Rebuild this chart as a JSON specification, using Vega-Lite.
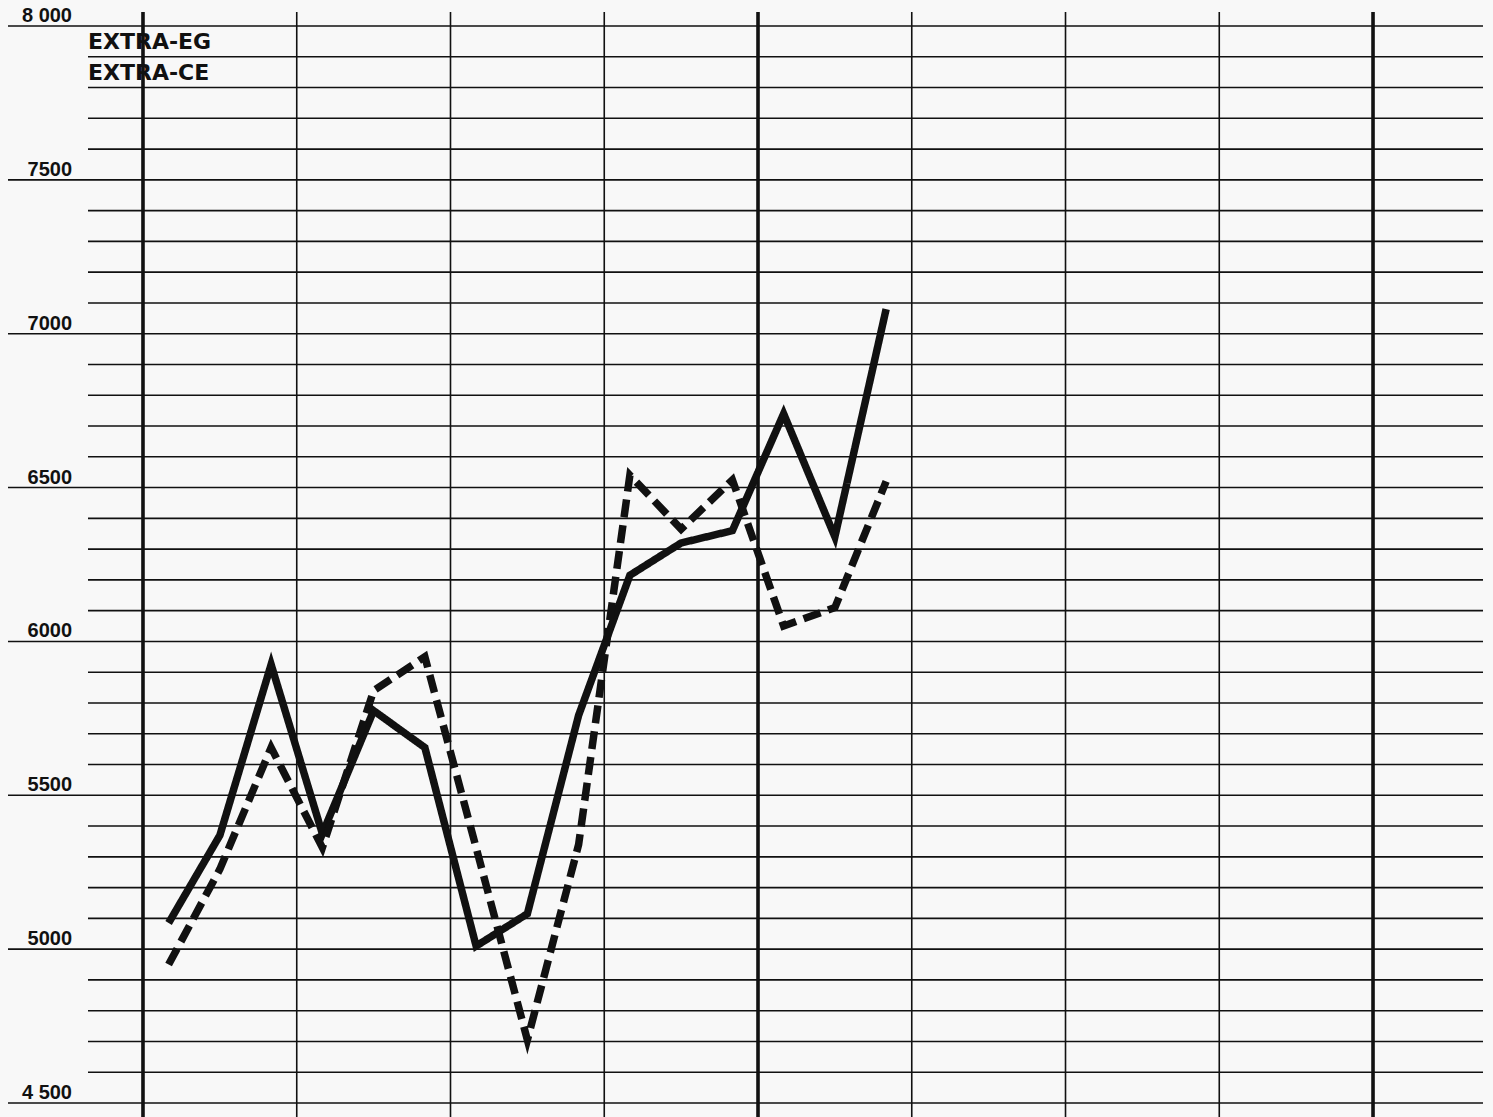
{
  "$schema": "https://vega.github.io/schema/vega-lite/v6.json",
  "width": 1493,
  "height": 1117,
  "padding": 0,
  "autosize": {"type": "none"},
  "background": "#f8f8f8",
  "config": {"view": {"stroke": null}},
  "datasets": {
    "series": [
      {"t": 0.5, "series": "EXTRA-EG", "value": 5085},
      {"t": 1.5, "series": "EXTRA-EG", "value": 5370},
      {"t": 2.5, "series": "EXTRA-EG", "value": 5925},
      {"t": 3.5, "series": "EXTRA-EG", "value": 5375},
      {"t": 4.5, "series": "EXTRA-EG", "value": 5775},
      {"t": 5.5, "series": "EXTRA-EG", "value": 5655},
      {"t": 6.5, "series": "EXTRA-EG", "value": 5010},
      {"t": 7.5, "series": "EXTRA-EG", "value": 5115},
      {"t": 8.5, "series": "EXTRA-EG", "value": 5760},
      {"t": 9.5, "series": "EXTRA-EG", "value": 6215},
      {"t": 10.5, "series": "EXTRA-EG", "value": 6320},
      {"t": 11.5, "series": "EXTRA-EG", "value": 6360},
      {"t": 12.5, "series": "EXTRA-EG", "value": 6740},
      {"t": 13.5, "series": "EXTRA-EG", "value": 6340},
      {"t": 14.5, "series": "EXTRA-EG", "value": 7080},
      {"t": 0.5, "series": "EXTRA-CE", "value": 4950},
      {"t": 1.5, "series": "EXTRA-CE", "value": 5260},
      {"t": 2.5, "series": "EXTRA-CE", "value": 5655},
      {"t": 3.5, "series": "EXTRA-CE", "value": 5330},
      {"t": 4.5, "series": "EXTRA-CE", "value": 5840},
      {"t": 5.5, "series": "EXTRA-CE", "value": 5950},
      {"t": 6.5, "series": "EXTRA-CE", "value": 5330},
      {"t": 7.5, "series": "EXTRA-CE", "value": 4705},
      {"t": 8.5, "series": "EXTRA-CE", "value": 5340},
      {"t": 9.5, "series": "EXTRA-CE", "value": 6540},
      {"t": 10.5, "series": "EXTRA-CE", "value": 6365},
      {"t": 11.5, "series": "EXTRA-CE", "value": 6525},
      {"t": 12.5, "series": "EXTRA-CE", "value": 6050},
      {"t": 13.5, "series": "EXTRA-CE", "value": 6110},
      {"t": 14.5, "series": "EXTRA-CE", "value": 6520}
    ],
    "hgrid": [
      {"v": 4500}, {"v": 4600}, {"v": 4700}, {"v": 4800}, {"v": 4900},
      {"v": 5000}, {"v": 5100}, {"v": 5200}, {"v": 5300}, {"v": 5400},
      {"v": 5500}, {"v": 5600}, {"v": 5700}, {"v": 5800}, {"v": 5900},
      {"v": 6000}, {"v": 6100}, {"v": 6200}, {"v": 6300}, {"v": 6400},
      {"v": 6500}, {"v": 6600}, {"v": 6700}, {"v": 6800}, {"v": 6900},
      {"v": 7000}, {"v": 7100}, {"v": 7200}, {"v": 7300}, {"v": 7400},
      {"v": 7500}, {"v": 7600}, {"v": 7700}, {"v": 7800}, {"v": 7900},
      {"v": 8000}
    ],
    "vgrid": [
      {"t": 0}, {"t": 3}, {"t": 6}, {"t": 9}, {"t": 12},
      {"t": 15}, {"t": 18}, {"t": 21}, {"t": 24}
    ],
    "ylabels": [
      {"v": 8000, "label": "8 000"},
      {"v": 7500, "label": "7500"},
      {"v": 7000, "label": "7000"},
      {"v": 6500, "label": "6500"},
      {"v": 6000, "label": "6000"},
      {"v": 5500, "label": "5500"},
      {"v": 5000, "label": "5000"},
      {"v": 4500, "label": "4 500"}
    ],
    "names": [
      {"name": "EXTRA-EG", "v": 7948},
      {"name": "EXTRA-CE", "v": 7847}
    ]
  },
  "encoding": {},
  "layer": [
    {
      "data": {"name": "hgrid"},
      "transform": [{"filter": "datum.v % 500 == 0"}],
      "mark": {"type": "rule", "color": "#111", "strokeWidth": 1.6},
      "encoding": {
        "y": {"field": "v", "type": "quantitative", "scale": {"domain": [4454.5, 8084.5], "nice": false, "zero": false}, "axis": null},
        "x": {"datum": -2.634, "type": "quantitative", "scale": {"domain": [-2.790, 26.341], "nice": false, "zero": false}, "axis": null},
        "x2": {"datum": 26.146}
      }
    },
    {
      "data": {"name": "hgrid"},
      "transform": [{"filter": "datum.v % 500 != 0"}],
      "mark": {"type": "rule", "color": "#111", "strokeWidth": 1.6},
      "encoding": {
        "y": {"field": "v", "type": "quantitative"},
        "x": {"datum": -1.073, "type": "quantitative"},
        "x2": {"datum": 26.146}
      }
    },
    {
      "data": {"name": "vgrid"},
      "transform": [{"filter": "datum.t % 12 != 0"}],
      "mark": {"type": "rule", "color": "#111", "strokeWidth": 1.6},
      "encoding": {
        "x": {"field": "t", "type": "quantitative"},
        "y": {"datum": 8045.5, "type": "quantitative"},
        "y2": {"datum": 4454.5}
      }
    },
    {
      "data": {"name": "vgrid"},
      "transform": [{"filter": "datum.t % 12 == 0"}],
      "mark": {"type": "rule", "color": "#111", "strokeWidth": 3.6},
      "encoding": {
        "x": {"field": "t", "type": "quantitative"},
        "y": {"datum": 8045.5, "type": "quantitative"},
        "y2": {"datum": 4454.5}
      }
    },
    {
      "data": {"name": "ylabels"},
      "mark": {"type": "text", "align": "right", "baseline": "alphabetic", "dy": -4, "font": "Liberation Sans", "fontWeight": "bold", "fontSize": 20, "color": "#111"},
      "encoding": {
        "x": {"datum": -1.385, "type": "quantitative"},
        "y": {"field": "v", "type": "quantitative"},
        "text": {"field": "label"}
      }
    },
    {
      "data": {"name": "names"},
      "mark": {"type": "text", "align": "left", "baseline": "middle", "font": "DejaVu Sans", "fontWeight": "bold", "fontSize": 22, "color": "#111"},
      "encoding": {
        "x": {"datum": -1.073, "type": "quantitative"},
        "y": {"field": "v", "type": "quantitative"},
        "text": {"field": "name"}
      }
    },
    {
      "data": {"name": "series"},
      "mark": {"type": "line", "color": "#111", "strokeWidth": 7.5, "strokeJoin": "miter", "strokeCap": "butt"},
      "encoding": {
        "x": {"field": "t", "type": "quantitative"},
        "y": {"field": "value", "type": "quantitative"},
        "detail": {"field": "series"},
        "strokeDash": {"field": "series", "type": "nominal", "scale": {"domain": ["EXTRA-EG", "EXTRA-CE"], "range": [[1, 0], [18, 8]]}, "legend": null}
      }
    }
  ]
}
